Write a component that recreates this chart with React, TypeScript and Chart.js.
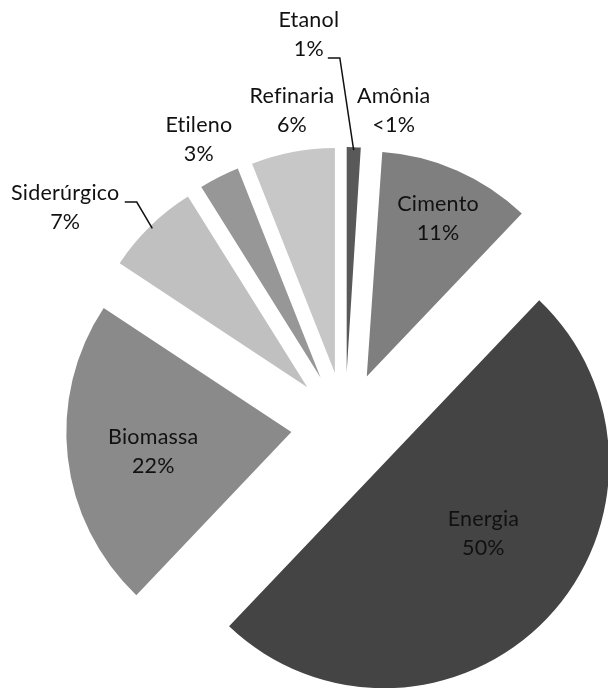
import React, { useEffect, useRef } from 'react';
import { Chart, registerables } from 'chart.js';

Chart.register(...registerables);

// ---- data (clockwise from 12 o'clock) ----
const categories = ['Etanol', 'Amônia', 'Cimento', 'Energia', 'Biomassa', 'Siderúrgico', 'Etileno', 'Refinaria'];
const shares = [1.0, 0.1, 11, 50, 22.2, 6.8, 2.9, 6.0];
const shareLabels = ['1%', '<1%', '11%', '50%', '22%', '7%', '3%', '6%'];

// ---- styling ----
const sliceColors = ['#595959', '#ffffff', '#7f7f7f', '#444444', '#8a8a8a', '#c0c0c0', '#979797', '#c7c7c7'];
const EXPLODE = 54; // px each slice is pulled out
const RADIUS = 225;
// label centre relative to the exploded slice apex: distance (x radius), angle (deg, clockwise from top)
const labelDist = [1.51, 1.178, 0.77, 0.54, 0.62, 1.34, 1.19, 1.18];
const labelAngle = [-6.4, 9.8, 24.3, 125.2, 261.8, 306.6, 332.95, 350.7];
// leader lines: [elbow dx, elbow dy, end dx, end dy] relative to label centre, or null
const leaders: (number[] | null)[] = [
  [31, 23.5, 19, 23.5],
  null, null, null, null,
  [71.5, -5.5, 59.5, -5.5],
  null, null,
];
const FONT = '21.5px Lato, "Open Sans", sans-serif';
const LINE_GAP = 29;

const explodePlugin = {
  id: 'explode',
  afterDatasetsUpdate(chart: any) {
    const meta = chart.getDatasetMeta(0);
    meta.data.forEach((arc: any) => {
      const mid = (arc.startAngle + arc.endAngle) / 2;
      arc.x += Math.cos(mid) * EXPLODE;
      arc.y += Math.sin(mid) * EXPLODE;
    });
  },
};

const labelPlugin = {
  id: 'sliceLabels',
  afterDatasetsDraw(chart: any) {
    const ctx = chart.ctx as any;
    const meta = chart.getDatasetMeta(0);
    ctx.save();
    ctx.font = FONT;
    ctx.fillStyle = '#111111';
    ctx.textAlign = 'center';
    ctx.textBaseline = 'middle';
    try { ctx.letterSpacing = '0.2px'; } catch (e) { /* ignore */ }
    meta.data.forEach((arc: any, i: number) => {
      const R = arc.outerRadius;
      const a = ((labelAngle[i] - 90) * Math.PI) / 180;
      const cx = arc.x + Math.cos(a) * labelDist[i] * R;
      const cy = arc.y + Math.sin(a) * labelDist[i] * R;
      ctx.fillText(categories[i], cx, cy - LINE_GAP / 2);
      ctx.fillText(shareLabels[i], cx, cy + LINE_GAP / 2);
      const l = leaders[i];
      if (l) {
        const mid = (arc.startAngle + arc.endAngle) / 2;
        const sx = arc.x + Math.cos(mid) * (R - 3);
        const sy = arc.y + Math.sin(mid) * (R - 3);
        ctx.beginPath();
        ctx.strokeStyle = '#111111';
        ctx.lineWidth = 1.5;
        ctx.moveTo(sx, sy);
        ctx.lineTo(cx + l[0], cy + l[1]);
        ctx.lineTo(cx + l[2], cy + l[3]);
        ctx.stroke();
      }
    });
    ctx.restore();
  },
};

export default function App() {
  const ref = useRef<HTMLCanvasElement | null>(null);
  useEffect(() => {
    if (!ref.current) return;
    const chart = new Chart(ref.current, {
      type: 'pie',
      data: {
        labels: categories,
        datasets: [
          {
            data: shares,
            backgroundColor: sliceColors,
            borderWidth: 0,
            hoverOffset: 0,
          },
        ],
      },
      options: {
        responsive: false,
        animation: false,
        radius: RADIUS,
        rotation: 0,
        layout: { padding: { left: 82, top: 164, right: 0, bottom: 0 } },
        plugins: {
          legend: { display: false },
          tooltip: { enabled: false },
        },
        events: [],
      } as any,
      plugins: [explodePlugin, labelPlugin],
    });
    return () => chart.destroy();
  }, []);
  return (
    <div style={{ position: 'absolute', left: 0, top: 0, width: 608, height: 688, background: '#fff' }}>
      <canvas ref={ref} width={608} height={688} />
    </div>
  );
}
